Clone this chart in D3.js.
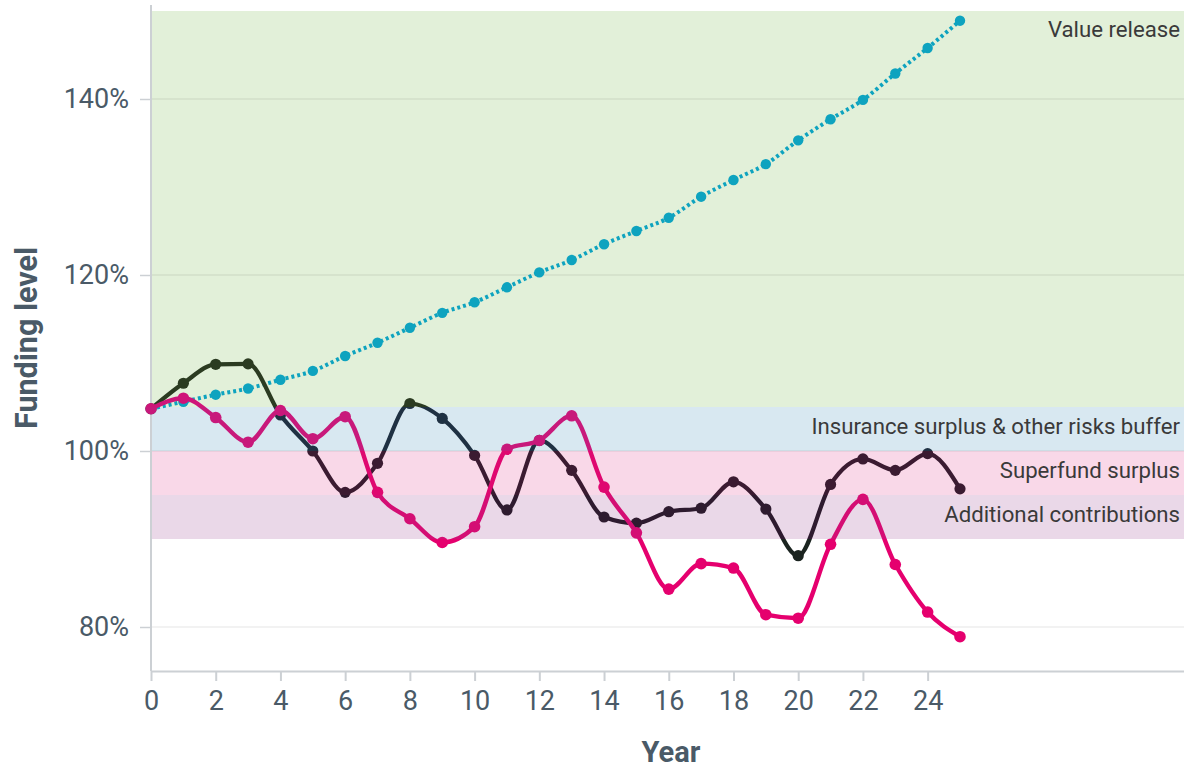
<!DOCTYPE html>
<html>
<head>
<meta charset="utf-8">
<script src="https://cdn.jsdelivr.net/npm/d3@7"></script>
<style>
  body { margin: 0; background: #fff; }
  svg { display: block; font-family: Roboto, "Noto Sans", sans-serif; }
</style>
</head>
<body>
<svg id="chart" width="1184" height="769"></svg>
<script>
const years = [0, 1, 2, 3, 4, 5, 6, 7, 8, 9, 10, 11, 12, 13, 14, 15, 16, 17, 18, 19, 20, 21, 22, 23, 24, 25]
const valueRelease = [104.8, 105.6, 106.4, 107.1, 108.1, 109.1, 110.8, 112.3, 114.0, 115.7, 116.9, 118.6, 120.3, 121.7, 123.5, 125.0, 126.5, 128.9, 130.8, 132.6, 135.3, 137.7, 139.9, 142.9, 145.8, 148.9]
const darkSeries = [104.8, 107.7, 109.85, 109.9, 104.1, 100.0, 95.3, 98.6, 105.4, 103.7, 99.5, 93.3, 101.2, 97.8, 92.5, 91.8, 93.1, 93.5, 96.5, 93.4, 88.1, 96.2, 99.1, 97.8, 99.7, 95.7]
const pinkSeries = [104.8, 106.0, 103.8, 101.0, 104.6, 101.4, 103.9, 95.3, 92.3, 89.6, 91.4, 100.2, 101.2, 104.0, 95.9, 90.7, 84.3, 87.2, 86.7, 81.4, 81.0, 89.4, 94.5, 87.1, 81.7, 78.9]

const bandNames = ['Value release', 'Insurance surplus & other risks buffer', 'Superfund surplus', 'Additional contributions']
const bandLow = [105, 100, 95, 90]
const bandHigh = [150, 105, 100, 95]
const bandColors = ['#e2f0d9', '#d8e8f1', '#f9d8e8', '#ead8e8']

const yTicks = [80, 100, 120, 140]
const xTicks = [0, 2, 4, 6, 8, 10, 12, 14, 16, 18, 20, 22, 24]

const svg = d3.select('#chart')
const plotLeft = 151, plotRight = 1184, plotTop = 11, plotBottom = 671

const x = d3.scaleLinear().domain([0, 32]).range([plotLeft, plotLeft + 32 * 32.36])
const y = d3.scaleLinear().domain([75, 150]).range([plotBottom, plotTop])

// bands
const bands = bandNames.map((name, i) => ({ name, lo: bandLow[i], hi: bandHigh[i], color: bandColors[i] }))
svg.append('g').selectAll('rect')
  .data(bands).enter().append('rect')
  .attr('x', plotLeft)
  .attr('width', plotRight - plotLeft)
  .attr('y', (d) => y(d.hi))
  .attr('height', (d) => y(d.lo) - y(d.hi))
  .attr('fill', (d) => d.color)

// gridlines
svg.append('g').selectAll('line')
  .data(yTicks).enter().append('line')
  .attr('x1', plotLeft).attr('x2', plotRight)
  .attr('y1', (d) => y(d)).attr('y2', (d) => y(d))
  .attr('stroke', '#000').attr('stroke-opacity', 0.07).attr('stroke-width', 1.5)

// band labels
svg.append('g').selectAll('text')
  .data(bands).enter().append('text')
  .attr('x', 1180)
  .attr('y', (d, i) => i == 0 ? y(d.hi) + 26 : (y(d.hi) + y(d.lo)) / 2 + 5)
  .attr('text-anchor', 'end')
  .attr('font-size', 22.2)
  .attr('fill', '#3a3a3a')
  .text((d) => d.name)

// axes
const xAxis = svg.append('g')
  .attr('transform', `translate(0,${plotBottom})`)
  .call(d3.axisBottom(x).tickValues(xTicks).tickSize(10).tickSizeOuter(0).tickPadding(10))
xAxis.select('.domain').attr('stroke', '#ccd0d4').attr('stroke-width', 2)
xAxis.selectAll('.tick line').attr('stroke', '#ccd0d4').attr('stroke-width', 2)
xAxis.selectAll('.tick text').attr('font-size', 27).attr('fill', '#4a5a67').attr('font-family', 'Roboto')

const yAxis = svg.append('g')
  .attr('transform', `translate(${plotLeft},0)`)
  .call(d3.axisLeft(y).tickValues(yTicks).tickSize(11).tickPadding(11).tickFormat((d) => d + '%'))
yAxis.select('.domain').remove()
yAxis.selectAll('.tick line').attr('stroke', '#ccd0d4').attr('stroke-width', 1.5)
yAxis.selectAll('.tick text').attr('font-size', 27).attr('fill', '#4a5a67').attr('font-family', 'Roboto')

svg.append('line')
  .attr('x1', plotLeft).attr('x2', plotLeft)
  .attr('y1', 5).attr('y2', plotBottom)
  .attr('stroke', '#ccd0d4').attr('stroke-width', 2)

// axis titles
svg.append('text')
  .attr('transform', `translate(37,338) rotate(-90)`)
  .attr('text-anchor', 'middle')
  .attr('font-size', 30.5).attr('font-weight', 'bold')
  .attr('fill', '#4a5a67')
  .text('Funding level')

svg.append('text')
  .attr('x', 671).attr('y', 762)
  .attr('text-anchor', 'middle')
  .attr('font-size', 29).attr('font-weight', 'bold')
  .attr('fill', '#4a5a67')
  .text('Year')

// gradients so the lines take a tint of the band behind them
const defs = svg.append('defs')
function bandGradient(id, colors) {
  // colors: [>105, 100-105, 95-100, 90-95, <90]
  const g = defs.append('linearGradient')
    .attr('id', id)
    .attr('gradientUnits', 'userSpaceOnUse')
    .attr('x1', 0).attr('x2', 0)
    .attr('y1', y(150)).attr('y2', y(75))
  const cuts = [105, 100, 95, 90]
  const off = (v) => (y(v) - y(150)) / (y(75) - y(150))
  g.append('stop').attr('offset', 0).attr('stop-color', colors[0])
  cuts.forEach((c, i) => {
    g.append('stop').attr('offset', off(c)).attr('stop-color', colors[i])
    g.append('stop').attr('offset', off(c)).attr('stop-color', colors[i + 1])
  })
  g.append('stop').attr('offset', 1).attr('stop-color', colors[4])
}
bandGradient('darkGrad', ['#2b3b21', '#1f3143', '#3b1b31', '#2e1b2f', '#1b2420'])
bandGradient('pinkGrad', ['#cf1479', '#c8197b', '#df0870', '#d40e74', '#e5006e'])

const line = d3.line()
  .x((d) => x(d.year))
  .y((d) => y(d.value))
  .curve(d3.curveMonotoneX)

const series = [
  { name: 'valueRelease', values: valueRelease, color: '#0ea3bf', dash: '3 3', r: 5.2, w: 4 },
  { name: 'dark', values: darkSeries, color: 'url(#darkGrad)', dash: null, r: 5.6, w: 4.2 },
  { name: 'pink', values: pinkSeries, color: 'url(#pinkGrad)', dash: null, r: 5.8, w: 4.4 }
]

series.forEach((s) => {
  const pts = years.map((yr, i) => ({ year: yr, value: s.values[i] }))
  const g = svg.append('g').attr('class', s.name)
  g.append('path')
    .datum(pts)
    .attr('d', line)
    .attr('fill', 'none')
    .attr('stroke', s.color)
    .attr('stroke-width', s.w)
    .attr('stroke-dasharray', s.dash)
  g.selectAll('circle')
    .data(pts).enter().append('circle')
    .attr('cx', (d) => x(d.year))
    .attr('cy', (d) => y(d.value))
    .attr('r', s.r)
    .attr('fill', s.color)
})
</script>
</body>
</html>
